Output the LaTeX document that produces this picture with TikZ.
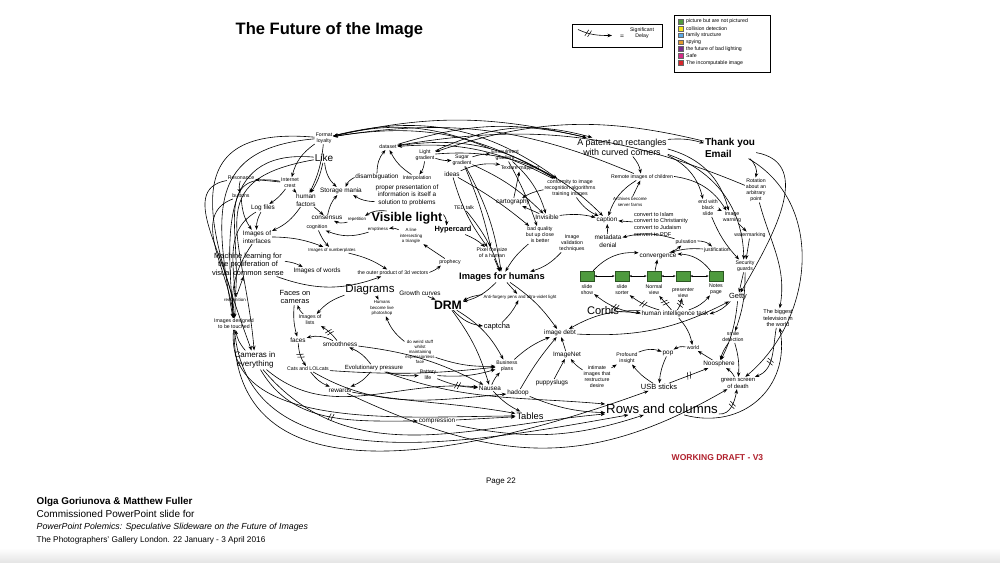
\documentclass[tikz,border=0pt]{standalone}
\usepackage{fontspec}
\setmainfont{Liberation Sans}
\usetikzlibrary{positioning,arrows.meta,decorations.markings}
\definecolor{keygreen}{HTML}{4E9A3E}
\definecolor{keyyellow}{HTML}{F2E21B}
\definecolor{keyblue}{HTML}{5AA9E6}
\definecolor{keyorange}{HTML}{E39A2C}
\definecolor{keypurple}{HTML}{7B2D8E}
\definecolor{keymagenta}{HTML}{D42A86}
\definecolor{keyred}{HTML}{D7262B}
\definecolor{draftred}{HTML}{B0202C}

\tikzset{
  lbl/.style={align=center, inner sep=0.6pt},
  tinyA/.style={lbl, font=\fontsize{3.3}{3.9}\selectfont},
  tinyB/.style={lbl, font=\fontsize{3.9}{4.5}\selectfont},
  smallA/.style={lbl, font=\fontsize{4.8}{5.6}\selectfont},
  midA/.style={lbl, font=\fontsize{5.6}{6.5}\selectfont},
  arr/.style={-{Stealth[length=3.4pt,width=2.6pt]}, line width=0.45pt},
  delay/.style={postaction={decorate}, decoration={markings, mark=at position #1 with
      {\draw[-, line width=0.4pt] (-1.6pt,-2.6pt) -- (0pt,2.6pt) (0.6pt,-2.6pt) -- (2.2pt,2.6pt);}}},
  delay/.default=0.5,
  slidebox/.style={draw=keygreen!55!black, fill=keygreen, minimum width=10.5pt, minimum height=7.5pt, inner sep=0pt},
  keysq/.style={draw=black!60, line width=0.2pt, minimum size=3.6pt, inner sep=0pt},
  dbl/.style={{Stealth[length=2pt,width=1.6pt]}-{Stealth[length=2pt,width=1.6pt]}, line width=0.35pt},
}

\begin{document}
\begin{tikzpicture}[x=0.75pt,y=-0.75pt]
\useasboundingbox (0,0) rectangle (1000,562);
\shade[top color=white, bottom color=black!10] (0,548) rectangle (1000,562);

% heading and keys
\node[anchor=west, font=\fontsize{12.4}{15}\bfseries] (title) at (231,30) {The Future of the Image};
\node[draw, line width=0.4pt, minimum width=67.5pt, minimum height=17.25pt, inner sep=0pt] (delaybox) at (617,35.5) {};
\coordinate (dla) at (578,29.5);
\coordinate (dlb) at (612,35.5);
\draw[arr, delay=0.3] (dla) to[out=-25,in=180] (dlb);
\node[lbl, font=\fontsize{5}{6}\selectfont] (eq) at (622,37) {=};
\node[tinyB] (sigdelay) at (642,33) {Significant\\Delay};
\node[draw, line width=0.4pt, anchor=north west, minimum width=72pt, minimum height=43pt, inner sep=0pt] (keybox) at (674,15) {};
\foreach \c/\t [count=\i] in {keygreen/picture but are not pictured, keyyellow/collision detection,
    keyblue/family structure, keyorange/spying, keypurple/the future of bad lighting,
    keymagenta/Safe, keyred/The incomputable image}{
  \node[keysq, fill=\c] (sq\i) at (681,{14.5+6.9*\i}) {};
  \node[tinyB, anchor=west] (kt\i) at (685,{14.5+6.9*\i}) {\t};
}

% top row
\node[tinyB] (fmt) at (324,138) {Format\\loyalty};
\node[lbl, font=\fontsize{7.5}{9}\selectfont] (like) at (324,158) {Like};
\node[tinyB] (dataset) at (388,147) {dataset};
\node[tinyB] (light) at (425,155) {Light\\gradient};
\node[tinyB] (sugar) at (462,160) {Sugar\\gradient};
\node[tinyB] (ensoul) at (505,155) {Ensoulment\\gradient};
\node[lbl, font=\fontsize{6.7}{7.7}\selectfont] (patent) at (622,147) {A patent on rectangles\\with curved corners};
\node[lbl, anchor=west, align=left, font=\fontsize{7.5}{8.8}\bfseries] (thanks) at (704,148) {Thank you\\Email};
\node[tinyB] (resonance) at (241,178) {Resonance};
\node[tinyB] (crest) at (290,183) {Internet\\crest};
\node[smallA] (disamb) at (377,177) {disambiguation};
\node[tinyB] (interp) at (417,178) {Interpolation};
\node[smallA] (ideas) at (452,174) {ideas};
\node[tinyB] (texture) at (520,168) {Texture mapping};
\node[tinyB] (remote) at (642,177) {Remote images of children};
\node[tinyB] (rotation) at (756,190) {Rotation\\about an\\arbitrary\\point};
\node[tinyB] (conform) at (570,188) {conformity to image\\recognition algorithms\\training images};

% second band
\node[tinyB] (buttons) at (241,196) {buttons};
\node[smallA] (human) at (306,200) {human\\factors};
\node[smallA] (storage) at (341,191) {Storage mania};
\node[smallA] (proper) at (407,195) {proper presentation of\\information is itself a\\solution to problems};
\node[tinyA] (archives) at (630,202) {Archives become\\server farms};
\node[tinyB] (endblack) at (708,208) {end with\\black\\slide};
\node[smallA] (logfiles) at (263,208) {Log files};
\node[tinyB] (ted) at (464,208) {TED talk};
\node[smallA] (carto) at (513,202) {cartography};
\node[lbl, anchor=west, align=left, font=\fontsize{4.2}{5}\selectfont] (convert) at (633,224) {convert to Islam\\convert to Christianity\\convert to Judaism\\convert to PDF};
\node[tinyB] (imgwarn) at (732,217) {Image\\warning};
\node[smallA] (consensus) at (327,218) {consensus};
\node[tinyA] (repet) at (357,219) {repetition};
\node[lbl, font=\fontsize{9.5}{11}\bfseries] (visible) at (407,218) {Visible light};
\node[smallA] (invisible) at (547,217) {Invisible};
\node[smallA] (caption) at (607,220) {caption};
\node[tinyB] (cognition) at (317,227) {cognition};
\node[tinyA] (emptiness) at (378,229) {emptiness};
\node[tinyA] (lineint) at (411,236) {A line\\intersecting\\a triangle};
\node[lbl, font=\fontsize{5.6}{6.5}\bfseries] (hyper) at (453,230) {Hypercard};
\node[tinyB] (badq) at (540,235) {bad quality\\but up close\\is better};
\node[tinyB] (validation) at (572,243) {Image\\validation\\techniques};
\node[smallA] (interfaces) at (257,237) {Images of\\interfaces};
\node[smallA] (metadata) at (608,241) {metadata\\denial};
\node[tinyB] (pulsation) at (686,242) {pulsation};
\node[tinyB] (watermark) at (750,235) {watermarking};
\node[tinyB] (justif) at (717,250) {justification};

% middle band
\node[tinyA] (numberplates) at (332,250) {Images of numberplates};
\node[tinyB] (pixel) at (492,253) {Pixel the size\\of a human};
\node[smallA] (convergence) at (658,256) {convergence};
\node[midA] (machine) at (248,264) {Machine learning for\\the proliferation of\\visual common sense};
\node[tinyB] (prophecy) at (450,262) {prophecy};
\node[tinyB] (security) at (745,266) {Security\\guards};
\node[smallA] (words) at (317,271) {Images of words};
\node[tinyB] (outer) at (393,273) {the outer product of 3d vectors};
\node[lbl, font=\fontsize{7}{8}\bfseries] (ifh) at (502,277) {Images for humans};

% slide views
\node[slidebox] (b1) at (587,276) {};
\node[slidebox] (b2) at (622,276) {};
\node[slidebox] (b3) at (654,276) {};
\node[slidebox] (b4) at (683,276) {};
\node[slidebox] (b5) at (716,276) {};
\node[tinyB, below=2pt of b1] (l1) {slide\\show};
\node[tinyB, below=2pt of b2] (l2) {slide\\sorter};
\node[tinyB, below=2pt of b3] (l3) {Normal\\view};
\node[tinyB, below=4pt of b4] (l4) {presenter\\view};
\node[tinyB, below=1pt of b5] (l5) {Notes\\page};
\draw[dbl] (b1) -- (b2);
\draw[dbl] (b2) -- (b3);
\draw[dbl] (b3) -- (b4);
\draw[dbl] (b4) -- (b5);

\node[lbl, font=\fontsize{8.6}{10}\selectfont] (diagrams) at (370,290) {Diagrams};
\node[midA] (facescam) at (295,297) {Faces on\\cameras};
\node[smallA] (growth) at (420,293) {Growth curves};
\node[tinyA] (antiforg) at (520,297) {Anti-forgery pens and ultra-violet light};
\node[midA] (getty) at (738,297) {Getty};
\node[tinyA] (recog) at (235,300) {recognition};
\node[lbl, font=\fontsize{9.2}{10}\bfseries] (drm) at (448,305) {DRM};
\node[tinyA] (humansps) at (382,308) {Humans\\become live\\photoshop};
\node[lbl, font=\fontsize{8.3}{9.5}\selectfont] (corbis) at (603,311) {Corbis};
\node[smallA] (hit) at (675,314) {human intelligence task};
\node[lbl, font=\fontsize{4.2}{5}\selectfont] (biggest) at (778,318) {The biggest\\television in\\the world};

% lower band
\node[tinyB] (lists) at (310,320) {Images of\\lists};
\node[tinyB] (touched) at (234,324) {Images designed\\to be touched};
\node[midA] (captcha) at (497,327) {captcha};
\node[smallA] (imgdebt) at (560,333) {image debt};
\node[tinyB] (smile) at (733,337) {smile\\detection};
\node[smallA] (faces) at (298,340) {faces};
\node[smallA] (smooth) at (340,344) {smoothness};
\node[tinyA] (weird) at (420,352) {do weird stuff\\whilst\\maintaining\\expressionless\\face};
\node[smallA] (pop) at (668,353) {pop};
\node[tinyB] (world) at (693,348) {world};
\node[smallA] (imagenet) at (567,355) {ImageNet};
\node[tinyB] (profound) at (627,358) {Profound\\insight};
\node[lbl, font=\fontsize{6}{7.2}\selectfont] (cameras) at (255,360) {Cameras in\\everything};
\node[tinyB] (business) at (507,366) {Business\\plans};
\node[smallA] (noosphere) at (719,364) {Noosphere};
\node[tinyB] (cats) at (308,369) {Cats and LOLcats};
\node[lbl, font=\fontsize{4.5}{5.3}\selectfont] (evol) at (374,368) {Evolutionary pressure};
\node[tinyB] (battery) at (428,375) {Battery\\life};
\node[tinyB] (intimate) at (597,377) {intimate\\images that\\restructure\\desire};
\node[lbl, font=\fontsize{4.4}{5.2}\selectfont] (green) at (738,383) {green screen\\of death};
\node[smallA] (puppy) at (552,383) {puppyslugs};
\node[midA] (usb) at (659,387) {USB sticks};
\node[smallA] (nausea) at (490,388) {Nausea};
\node[smallA] (rewards) at (340,390) {rewards};
\node[smallA] (hadoop) at (518,393) {hadoop};
\node[lbl, font=\fontsize{9.9}{11}\selectfont] (rows) at (662,409) {Rows and columns};
\node[lbl, font=\fontsize{7}{8}\selectfont] (tables) at (530,416) {Tables};
\node[smallA] (compression) at (437,421) {compression};

% outer loops
\draw[arr] (patent) to[bend right=13] (fmt);
\draw[arr] (remote) to[bend right=16] (fmt);
\draw[arr] (conform) to[bend right=20] (fmt);
\draw[arr] (ensoul) to[bend right=18] (fmt);
\draw[arr] (rotation) to[bend right=16] (dataset);
\draw[arr] (conform) to[bend right=16] (dataset);
\draw[arr] (thanks) to[bend right=16] (light);
\draw[arr] (fmt) to[out=185,in=100,looseness=1.4] (touched);
\draw[arr] (like) to[out=175,in=95,looseness=1.3] (touched);
\draw[arr] (resonance) to[out=190,in=90] (touched);
\draw[arr] (buttons) to[out=200,in=95] (touched);
\draw[arr] (logfiles) to[out=210,in=85] (touched);
\draw[arr] (crest) to[out=170,in=85,looseness=1.4] (recog);
\draw[arr] (fmt) to[out=175,in=110,looseness=1.6] (cameras);
\draw[arr] (like) to[out=190,in=95,looseness=1.5] (cameras);
\draw[arr] (touched) to[out=-95,in=180,looseness=0.9] (tables);
\draw[arr] (touched) to[out=-85,in=190] (rows);
\draw[arr] (touched) to[out=-90,in=200,looseness=1.1] (usb);
\draw[arr, delay] (cameras) to[out=-60,in=180] (compression);
\draw[arr] (cameras) to[out=-40,in=175] (nausea);
\draw[arr] (cameras) to[out=-50,in=185] (rows);
\draw[arr] (cats) to[out=-30,in=185] (hadoop);
\draw[arr] (rewards) to[out=-10,in=170] (tables);
\draw[arr] (rewards) to[out=-25,in=210,looseness=1.1] (green);
\draw[arr] (evol) to[out=-20,in=175] (rows);
\draw[arr, delay] (rows) to[out=-5,in=-100] (green);
\draw[arr] (rows) to[out=-15,in=-80,looseness=1.2] (biggest);
\draw[arr] (rotation) to[out=-75,in=80] (biggest);
\draw[arr, delay=0.6] (biggest) to[out=-100,in=20] (green);
\draw[arr] (thanks) to[out=-10,in=60,looseness=1.1] (getty);
\draw[arr] (thanks) to[out=-30,in=40,looseness=1.05] (green);

% upper right
\draw[arr] (dataset) to[bend left=15] (patent);
\draw[arr] (light) to[bend left=20] (patent);
\draw[arr] (fmt) to[bend left=25] (conform);
\draw[arr] (dataset) to[bend left=20] (conform);
\draw[arr] (light) to[bend left=25] (caption);
\draw[arr] (patent) to[bend left=10] (thanks);
\draw[arr] (thanks) to[bend left=30] (rotation);
\draw[arr] (patent) to[bend left=15] (remote);
\draw[arr] (patent) to[bend left=25] (endblack);
\draw[arr] (patent) to[bend left=30] (imgwarn);
\draw[arr] (patent) to[bend left=35] (security);
\draw[arr] (remote) to[bend left=25] (imgwarn);
\draw[arr] (archives) -- (remote);
\draw[arr] (remote) to[bend right=20] (caption);
\draw[arr] (conform) to[bend right=15] (caption);
\draw[arr] (convert) -- (caption);
\draw[arr] (invisible) to[bend left=10] (caption);
\draw[arr] (metadata) -- (caption);
\draw[arr] (pulsation) to[bend right=15] (metadata);
\draw[arr] (convergence) to[bend right=10] (pulsation);
\draw[arr] (pulsation) to[bend left=20] (justif);
\draw[arr] (justif) to[bend right=10] (convergence);
\draw[arr] (endblack) to[bend left=10] (imgwarn);
\draw[arr] (endblack) to[bend right=10] (security);
\draw[arr] (imgwarn) -- (watermark);
\draw[arr] (watermark) -- (security);
\draw[arr] (security) -- (getty);
\draw[arr] (security) to[bend left=10] (smile);
\draw[arr] (getty) to[bend left=15] (hit);
\draw[arr] (corbis) -- (hit);
\draw[arr, delay] (hit) to[bend left=15] (l1);
\draw[arr, delay] (hit) to[bend left=10] (l2);
\draw[arr, delay] (hit) -- (l3);
\draw[arr, delay] (hit) to[bend right=10] (l4);
\draw[arr] (hit) to[bend right=15] (l5);
\draw[arr] (b1) to[bend left=25] (convergence);
\draw[arr] (b3) -- (convergence);
\draw[arr] (b5) to[bend right=25] (convergence);
\draw[arr] (imgdebt) to[bend right=15] (getty);

% upper left
\draw[arr] (fmt) to[bend right=20] (crest);
\draw[arr] (fmt) to[bend left=10] (human);
\draw[arr] (crest) -- (resonance);
\draw[arr] (crest) to[bend left=10] (logfiles);
\draw[arr] (resonance) to[bend right=15] (buttons);
\draw[arr] (crest) to[bend right=10] (human);
\draw[arr] (like) to[bend right=20] (storage);
\draw[arr] (like) to[bend left=10] (human);
\draw[arr] (disamb) to[bend right=20] (storage);
\draw[arr] (proper) to[bend left=15] (storage);
\draw[arr] (disamb) to[bend left=20] (dataset);
\draw[arr] (interp) to[bend left=15] (dataset);
\draw[arr] (light) to[bend right=10] (sugar);
\draw[arr] (sugar) to[bend left=10] (ensoul);
\draw[arr] (light) to[bend left=15] (interp);
\draw[arr] (ideas) to[bend left=15] (texture);
\draw[arr] (carto) -- (texture);
\draw[arr] (invisible) -- (carto);
\draw[arr] (conform) to[bend right=10] (carto);
\draw[arr] (human) -- (consensus);
\draw[arr] (consensus) to[bend left=15] (storage);
\draw[arr] (repet) to[bend left=20] (consensus);
\draw[arr] (visible) to[bend right=20] (repet);
\draw[arr] (visible) to[bend left=20] (hyper);
\draw[arr] (cognition) to[bend right=10] (numberplates);
\draw[arr] (emptiness) to[bend left=20] (cognition);
\draw[arr] (lineint) to[bend right=15] (emptiness);
\draw[arr] (logfiles) to[bend right=15] (interfaces);
\draw[arr] (buttons) to[bend right=15] (interfaces);
\draw[arr] (human) to[bend left=15] (interfaces);
\draw[arr] (interfaces) to[bend right=20] (touched);
\draw[arr] (interfaces) to[bend left=10] (numberplates);
\draw[arr] (numberplates) to[bend left=10] (outer);
\draw[arr] (machine) to[bend right=20] (outer);
\draw[arr] (machine) to[bend left=10] (words);
\draw[arr] (recog) -- (machine);

% centre
\draw[arr] (outer) to[bend right=10] (prophecy);
\draw[arr] (prophecy) -- (lineint);
\draw[arr] (hyper) to[bend left=10] (pixel);
\draw[arr] (pixel) -- (ifh);
\draw[arr] (badq) to[bend right=10] (ifh);
\draw[arr] (validation) to[bend left=15] (ifh);
\draw[arr] (sugar) to[bend left=10] (ifh);
\draw[arr] (sugar) to[bend left=5] (pixel);
\draw[arr] (sugar) to[bend left=10] (invisible);
\draw[arr] (ensoul) to[bend left=5] (badq);
\draw[arr] (ensoul) to[bend left=15] (invisible);
\draw[arr] (ideas) to[bend left=5] (badq);
\draw[arr] (ideas) to[bend right=10] (pixel);
\draw[arr] (ted) to[bend left=10] (ifh);
\draw[arr] (ifh) to[bend left=15] (drm);
\draw[arr] (ifh) to[bend left=10] (imgdebt);
\draw[arr] (growth) -- (drm);
\draw[arr] (antiforg) to[bend right=10] (drm);
\draw[arr] (ifh) -- (antiforg);
\draw[arr] (captcha) to[bend right=10] (antiforg);
\draw[arr] (drm) to[bend right=20] (captcha);
\draw[arr] (drm) to[bend left=10] (nausea);
\draw[arr] (diagrams) to[bend left=10] (humansps);
\draw[arr] (diagrams) to[bend right=15] (lists);
\draw[arr] (lists) to[bend left=15] (facescam);
\draw[arr, delay] (smooth) to[bend right=10] (lists);
\draw[arr] (facescam) to[bend right=10] (faces);
\draw[arr, delay] (faces) to[bend right=15] (cats);
\draw[arr] (smooth) to[bend right=20] (faces);
\draw[arr] (smooth) to[bend left=10] (nausea);
\draw[arr] (evol) to[bend right=15] (smooth);
\draw[arr] (evol) to[bend right=10] (battery);
\draw[arr] (cats) to[bend right=15] (rewards);
\draw[arr] (cats) to[bend right=5] (business);
\draw[arr] (evol) to[bend left=15] (rewards);
\draw[arr] (weird) to[bend left=15] (humansps);
\draw[arr] (weird) to[bend right=10] (business);
\draw[arr] (drm) to[bend left=15] (business);
\draw[arr] (battery) to[bend right=10] (business);
\draw[arr, delay] (battery) to[bend right=10] (nausea);
\draw[arr] (nausea) to[bend left=10] (business);
\draw[arr] (nausea) to[bend right=10] (tables);
\draw[arr] (business) to[bend left=10] (imgdebt);
\draw[arr] (hadoop) to[bend left=5] (imgdebt);
\draw[arr] (hadoop) to[bend right=10] (rows);
\draw[arr] (puppy) -- (imagenet);
\draw[arr] (imagenet) -- (imgdebt);

% lower right
\draw[arr] (hit) to[bend right=15] (imgdebt);
\draw[arr] (hit) to[bend left=15] (world);
\draw[arr] (getty) to[bend left=10] (noosphere);
\draw[arr] (intimate) to[bend left=10] (imagenet);
\draw[arr] (intimate) -- (profound);
\draw[arr] (profound) to[bend left=20] (pop);
\draw[arr] (pop) to[bend right=10] (usb);
\draw[arr] (usb) to[bend left=10] (profound);
\draw[arr] (world) to[bend right=20] (pop);
\draw[arr] (noosphere) -- (world);
\draw[arr, delay] (usb) -- (noosphere);
\draw[arr] (smile) to[bend right=10] (noosphere);
\draw[arr] (smile) to[bend left=10] (green);
\draw[arr] (green) to[bend right=15] (noosphere);
\draw[arr] (compression) -- (tables);
\draw[arr] (compression) to[bend right=15] (rows);
\draw[arr] (cameras) to[bend left=15] (touched);

% footer
\node[anchor=west, font=\fontsize{6.4}{7}\bfseries, text=draftred] (draft) at (667,458) {WORKING DRAFT - V3};
\node[font=\fontsize{6}{7}\selectfont] (page) at (501,482) {Page 22};
\node[anchor=west, font=\fontsize{7.4}{9}\bfseries] (authors) at (32,502) {Olga Goriunova \& Matthew Fuller};
\node[anchor=west, font=\fontsize{7.5}{9}\selectfont] (commission) at (32,514) {Commissioned PowerPoint slide for};
\node[anchor=west, font=\fontsize{6.6}{8}\itshape] (polemics) at (32,527) {PowerPoint Polemics: Speculative Slideware on the Future of Images};
\node[anchor=west, font=\fontsize{6.2}{8}\selectfont] (gallery) at (32,540) {The Photographers' Gallery London. 22 January - 3 April 2016};
\end{tikzpicture}
\end{document}
